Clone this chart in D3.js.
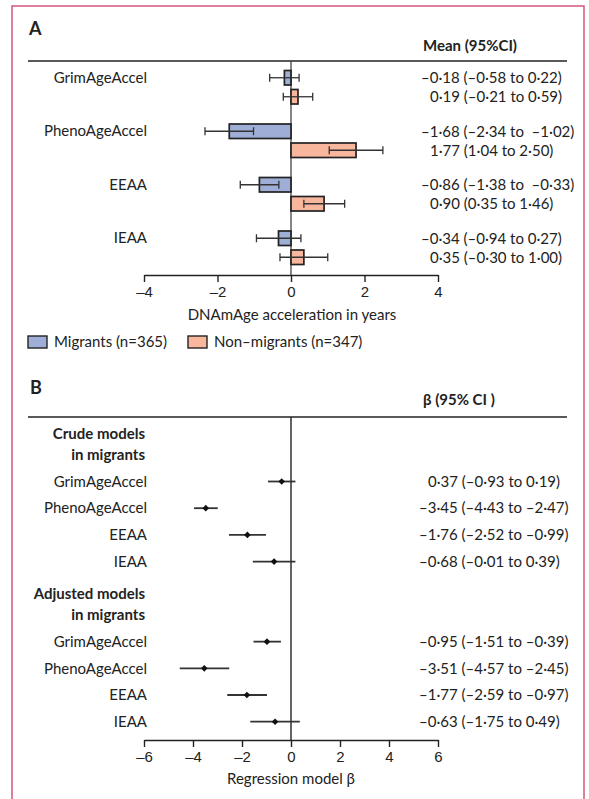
<!DOCTYPE html>
<html>
<head>
<meta charset="utf-8">
<script src="https://cdn.jsdelivr.net/npm/d3@7"></script>
<style>
  body { margin: 0; background: #fff; }
  svg { display: block; font-family: Lato, "Open Sans", sans-serif; }
  .axis text { font-size: 15px; fill: #222; }
  .axis path, .axis line { stroke: #222; stroke-width: 1.4; }
</style>
</head>
<body>
<svg width="589" height="799"></svg>
<script>
/*
 * Panel A: mean DNAmAge acceleration by group
 */
var clocks = ["GrimAgeAccel", "PhenoAgeAccel", "EEAA", "IEAA"];
var groupKeys = ["mig", "non"];

var migMean = [-0.18, -1.68, -0.86, -0.34];
var migLow  = [-0.58, -2.34, -1.38, -0.94];
var migHigh = [ 0.22, -1.02, -0.33,  0.27];
var migText = ["–0·18 (–0·58 to 0·22)", "–1·68 (–2·34 to  –1·02)",
               "–0·86 (–1·38 to  –0·33)", "–0·34 (–0·94 to 0·27)"];

var nonMean = [0.19, 1.77, 0.90, 0.35];
var nonLow  = [-0.21, 1.04, 0.35, -0.30];
var nonHigh = [0.59, 2.50, 1.46, 1.00];
var nonText = ["0·19 (–0·21 to 0·59)", "1·77 (1·04 to 2·50)",
               "0·90 (0·35 to 1·46)", "0·35 (–0·30 to 1·00)"];

var ticksA = [-4, -2, 0, 2, 4];
var legendLabels = ["Migrants (n=365)", "Non–migrants (n=347)"];

/*
 * Panel B: regression model beta in migrants
 * (markers; texts as printed)
 */
var crudeEst  = [-0.38, -3.48, -1.78, -0.69];
var crudeLow  = [-0.94, -3.96, -2.53, -1.56];
var crudeHigh = [ 0.18, -2.99, -1.02,  0.18];
var crudeText = ["0·37 (–0·93 to 0·19)", "–3·45 (–4·43 to –2·47)",
                 "–1·76 (–2·52 to –0·99)", "–0·68 (–0·01 to 0·39)"];

var adjEst  = [-0.98, -3.54, -1.80, -0.65];
var adjLow  = [-1.53, -4.54, -2.60, -1.66];
var adjHigh = [-0.41, -2.52, -0.98,  0.36];
var adjText = ["–0·95 (–1·51 to –0·39)", "–3·51 (–4·57 to –2·45)",
               "–1·77 (–2·59 to –0·97)", "–0·63 (–1·75 to 0·49)"];

var ticksB = [-6, -4, -2, 0, 2, 4, 6];

var colors = { mig: "#9eaed6", non: "#f8b79c" };
var ink = "#222";

var svg = d3.select("svg");

// page frame
svg.append("rect")
  .attr("x", 12).attr("y", 6).attr("width", 572).attr("height", 820)
  .attr("fill", "none").attr("stroke", "#d5557f").attr("stroke-width", 1.5);

function minusFmt(v) { return v < 0 ? "–" + Math.abs(v) : "" + v; }
function startX(s) { return s.charAt(0) == "–" ? 421 : 430; }

/* ---------- Panel A ---------- */
var rowsA = clocks.map(function (c, i) {
  return {
    name: c,
    bars: [
      { key: "mig", v: migMean[i], lo: migLow[i], hi: migHigh[i], t: migText[i] },
      { key: "non", v: nonMean[i], lo: nonLow[i], hi: nonHigh[i], t: nonText[i] }
    ]
  };
});

var xA = d3.scaleLinear().domain([-4, 4]).range([144, 438]);
var yA = d3.scaleBand().domain(clocks).range([60.5, 274.5]);
var yIn = d3.scaleBand().domain(groupKeys).range([0, yA.bandwidth()])
  .paddingInner(0.237).paddingOuter(0.526);

var gA = svg.append("g");

gA.append("text").attr("x", 29).attr("y", 35)
  .attr("font-size", 18).attr("font-weight", "bold").attr("fill", ink).text("A");
gA.append("text").attr("x", 423).attr("y", 51)
  .attr("font-size", 15).attr("font-weight", "bold").attr("fill", ink).text("Mean (95%CI)");
gA.append("line").attr("x1", 28).attr("x2", 567).attr("y1", 61).attr("y2", 61)
  .attr("stroke", ink).attr("stroke-width", 1.4);

gA.append("line").attr("x1", xA(0)).attr("x2", xA(0)).attr("y1", 61).attr("y2", 275)
  .attr("stroke", "#444").attr("stroke-width", 1.3);

var row = gA.selectAll("g.row").data(rowsA).enter().append("g")
  .attr("class", "row")
  .attr("transform", function (d) { return "translate(0," + yA(d.name) + ")"; });

row.append("text")
  .attr("x", 147).attr("y", yIn("mig") + yIn.bandwidth() / 2).attr("dy", "0.35em")
  .attr("text-anchor", "end").attr("font-size", 15).attr("fill", ink)
  .text(function (d) { return d.name; });

var bar = row.selectAll("g.bar").data(function (d) { return d.bars; }).enter().append("g")
  .attr("class", "bar")
  .attr("transform", function (d) { return "translate(0," + yIn(d.key) + ")"; });

bar.append("rect")
  .attr("x", function (d) { return xA(Math.min(0, d.v)); })
  .attr("width", function (d) { return Math.abs(xA(d.v) - xA(0)); })
  .attr("height", yIn.bandwidth())
  .attr("fill", function (d) { return colors[d.key]; })
  .attr("stroke", ink).attr("stroke-width", 1.7);

var hb = yIn.bandwidth() / 2;
bar.append("line")
  .attr("x1", function (d) { return xA(d.lo); })
  .attr("x2", function (d) { return xA(d.hi); })
  .attr("y1", hb).attr("y2", hb)
  .attr("stroke", "#333").attr("stroke-width", 1.3);
["lo", "hi"].forEach(function (k) {
  bar.append("line")
    .attr("x1", function (d) { return xA(d[k]); })
    .attr("x2", function (d) { return xA(d[k]); })
    .attr("y1", hb - 4).attr("y2", hb + 4)
    .attr("stroke", "#333").attr("stroke-width", 1.3);
});

bar.append("text")
  .attr("x", function (d) { return startX(d.t); })
  .attr("y", hb).attr("dy", "0.35em")
  .attr("font-size", 15).attr("fill", ink).attr("xml:space", "preserve")
  .text(function (d) { return d.t; });

gA.append("g").attr("class", "axis")
  .attr("transform", "translate(0,275)")
  .call(d3.axisBottom(xA).tickValues(ticksA).tickSize(7).tickSizeOuter(0)
    .tickPadding(4).tickFormat(minusFmt));

gA.append("text").attr("x", 292).attr("y", 320).attr("text-anchor", "middle")
  .attr("font-size", 15).attr("fill", ink).text("DNAmAge acceleration in years");

var legend = gA.selectAll("g.legend").data(groupKeys).enter().append("g")
  .attr("class", "legend")
  .attr("transform", function (d, i) { return "translate(" + (i ? 188 : 28) + ",336)"; });
legend.append("rect").attr("width", 19).attr("height", 12)
  .attr("fill", function (d) { return colors[d]; })
  .attr("stroke", ink).attr("stroke-width", 1.4);
legend.append("text").attr("x", 26).attr("y", 6).attr("dy", "0.35em")
  .attr("font-size", 15).attr("fill", ink)
  .text(function (d, i) { return legendLabels[i]; });

/* ---------- Panel B ---------- */
var modelsB = [
  { title: ["Crude models", "in migrants"], start: 2, est: crudeEst, lo: crudeLow, hi: crudeHigh, t: crudeText },
  { title: ["Adjusted models", "in migrants"], start: 8, est: adjEst, lo: adjLow, hi: adjHigh, t: adjText }
];

var xB = d3.scaleLinear().domain([-6, 6]).range([144, 438]);
var yB = d3.scaleLinear().domain([2, 11]).range([481.5, 721.7]);

var gB = svg.append("g");

gB.append("text").attr("x", 30).attr("y", 394)
  .attr("font-size", 18).attr("font-weight", "bold").attr("fill", ink).text("B");
gB.append("text").attr("x", 423).attr("y", 405)
  .attr("font-size", 15).attr("font-weight", "bold").attr("fill", ink)
  .attr("xml:space", "preserve").text("β (95% CI )");
gB.append("line").attr("x1", 28).attr("x2", 567).attr("y1", 417).attr("y2", 417)
  .attr("stroke", ink).attr("stroke-width", 1.4);

gB.append("line").attr("x1", xB(0)).attr("x2", xB(0)).attr("y1", 417).attr("y2", 740)
  .attr("stroke", ink).attr("stroke-width", 1.4);

modelsB.forEach(function (m) {
  var y0 = yB(m.start);
  m.title.forEach(function (line, j) {
    gB.append("text").attr("x", 145).attr("y", y0 - (j ? 22 : 43))
      .attr("text-anchor", "end").attr("font-size", 15).attr("font-weight", "bold")
      .attr("fill", ink).text(line);
  });

  var pts = clocks.map(function (c, i) {
    return { name: c, y: yB(m.start + i), v: m.est[i], lo: m.lo[i], hi: m.hi[i], t: m.t[i] };
  });

  var r = gB.selectAll(null).data(pts).enter().append("g")
    .attr("transform", function (d) { return "translate(0," + d.y + ")"; });

  r.append("text").attr("x", 147).attr("dy", "0.35em").attr("text-anchor", "end")
    .attr("font-size", 15).attr("fill", ink).text(function (d) { return d.name; });

  r.append("line")
    .attr("x1", function (d) { return xB(d.lo); })
    .attr("x2", function (d) { return xB(d.hi); })
    .attr("stroke", "#333").attr("stroke-width", 1.8);

  // small square turned 45 degrees
  r.append("path")
    .attr("transform", function (d) { return "translate(" + xB(d.v) + ",0) rotate(45)"; })
    .attr("d", d3.symbol().type(d3.symbolSquare).size(22))
    .attr("fill", "#111");

  r.append("text")
    .attr("x", function (d) { return startX(d.t) - 2; })
    .attr("dy", "0.35em").attr("font-size", 15).attr("fill", ink)
    .text(function (d) { return d.t; });
});

gB.append("g").attr("class", "axis")
  .attr("transform", "translate(0,740)")
  .call(d3.axisBottom(xB).tickValues(ticksB).tickSize(7).tickSizeOuter(0)
    .tickPadding(4).tickFormat(minusFmt));

gB.append("text").attr("x", 291).attr("y", 784).attr("text-anchor", "middle")
  .attr("font-size", 15).attr("fill", ink).text("Regression model β");
</script>
</body>
</html>
